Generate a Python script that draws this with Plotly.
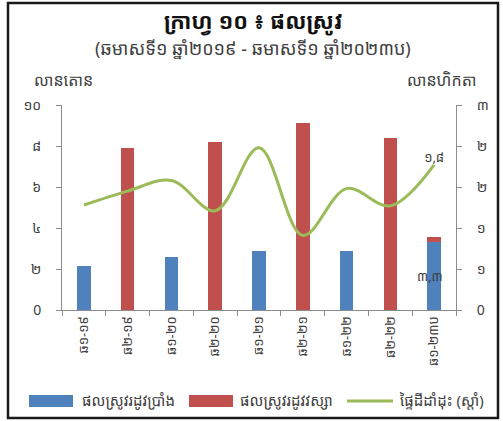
import plotly.graph_objects as go

# ---- data ----
categories = ["ឆ១-១៩", "ឆ២-១៩", "ឆ១-២០", "ឆ២-២០", "ឆ១-២១", "ឆ២-២១", "ឆ១-២២", "ឆ២-២២", "ឆ១-២៣ប"]
dry_season = [2.15, 0, 2.6, 0, 2.9, 0, 2.9, 0, 3.3]          # million tonnes
wet_season = [0, 7.9, 0, 8.2, 0, 9.1, 0, 8.4, 0.25]          # million tonnes
planted_area = [1.28, 1.45, 1.58, 1.21, 1.98, 0.91, 1.48, 1.27, 1.77]  # million ha (right)

left_tickvals = [0, 2, 4, 6, 8, 10]
left_ticktext = ["0", "២", "៤", "៦", "៨", "១០"]
right_tickvals = [0, 0.5, 1.0, 1.5, 2.0, 2.5]
right_ticktext = ["0", "១", "១", "២", "២", "៣"]

series_names = ["ផលស្រូវរដូវប្រាំង", "ផលស្រូវរដូវវស្សា", "ផ្ទៃដីដាំដុះ (ស្តាំ)"]
colors = ["#4F81BD", "#C0504D", "#9BBB59"]

title = "ក្រាហ្វ ១០ ៖ ផលស្រូវ"
subtitle = "(ឆមាសទី១ ឆ្នាំ២០១៩ - ឆមាសទី១ ឆ្នាំ២០២៣ប)"
left_title = "លានតោន"
right_title = "លានហិកតា"

KH = str.maketrans("0123456789.", "០១២៣៤៥៦៧៨៩,")
def kh(v, d=1):
    return f"{v:.{d}f}".translate(KH)

FONT = "Noto Sans Khmer, Khmer OS, Khmer OS System, Hanuman, DejaVu Sans, sans-serif"
TXT = "#404040"

fig = go.Figure()
fig.add_trace(go.Bar(x=categories, y=dry_season, name=series_names[0],
                     marker=dict(color=colors[0], line=dict(width=0))))
fig.add_trace(go.Bar(x=categories, y=wet_season, name=series_names[1],
                     marker=dict(color=colors[1], line=dict(width=0))))
line_text = [""] * (len(planted_area) - 1) + [kh(planted_area[-1])]
fig.add_trace(go.Scatter(x=categories, y=planted_area, name=series_names[2], yaxis="y2",
                         mode="lines+text", text=line_text, textposition="top center",
                         textfont=dict(size=13, color=TXT, family=FONT),
                         line=dict(color=colors[2], width=3, shape="spline", smoothing=1.0)))

# data label on last dry-season bar
fig.add_annotation(x=categories[-1], y=dry_season[-1] / 2, text=kh(dry_season[-1]),
                   showarrow=False, xshift=-4, xanchor="center", yanchor="middle",
                   font=dict(size=13, color=TXT, family=FONT))

axis_common = dict(showgrid=False, zeroline=False, showline=True, linecolor="#8c8c8c",
                   linewidth=1, ticks="outside", ticklen=5, tickcolor="#8c8c8c",
                   automargin=False,
                   tickfont=dict(size=14, color=TXT, family=FONT))

fig.update_layout(
    template="none",
    width=503, height=421,
    margin=dict(l=62, r=47, t=105, b=111, autoexpand=False),
    paper_bgcolor="white", plot_bgcolor="white",
    barmode="stack", bargap=0.69,
    showlegend=False,
    font=dict(family=FONT, color=TXT),
    xaxis=dict(type="category", tickson="boundaries", tickangle=-90,
               **{**axis_common, "tickfont": dict(size=13, color=TXT, family=FONT)}),
    yaxis=dict(range=[0, 10], tickvals=left_tickvals, ticktext=left_ticktext,
               ticklabelstandoff=12, **axis_common),
    yaxis2=dict(range=[0, 2.5], tickvals=right_tickvals, ticktext=right_ticktext,
                overlaying="y", side="right", ticklabelstandoff=12, **axis_common),
)

def py(ypx):
    return (310 - ypx) / 205
def px(xpx):
    return (xpx - 62) / 394

# frame
fig.add_shape(type="rect", xref="paper", yref="paper",
              x0=px(8), x1=px(498), y0=py(418), y1=py(3),
              line=dict(color="#1a1a1a", width=2.5), fillcolor="rgba(0,0,0,0)")

def label(x, y, text, size, color=TXT, xanchor="center"):
    fig.add_annotation(xref="paper", yref="paper", x=px(x), y=py(y), text=text,
                       showarrow=False, xanchor=xanchor, yanchor="middle",
                       font=dict(size=size, color=color, family=FONT))

label(253, 20, f"<b>{title}</b>", 22, "#111111")
label(253, 48, subtitle, 18)
label(63, 80, left_title, 16)
label(441, 80, right_title, 16)

# custom legend
legend_items = [(29, 73, 80), (189, 233, 238), (347, 393, 398)]
for i, (x0, x1, tx) in enumerate(legend_items):
    if i < 2:
        fig.add_shape(type="rect", xref="paper", yref="paper", x0=px(x0), x1=px(x1),
                      y0=py(407), y1=py(395), fillcolor=colors[i], line=dict(width=0))
    else:
        fig.add_shape(type="line", xref="paper", yref="paper", x0=px(x0), x1=px(x1),
                      y0=py(401), y1=py(401), line=dict(color=colors[i], width=3))
    label(tx, 400, series_names[i], 15, xanchor="left")

fig.write_html("out.html", config={"displayModeBar": False},
               post_script="document.body.style.margin='0';document.body.style.overflow='hidden';")
